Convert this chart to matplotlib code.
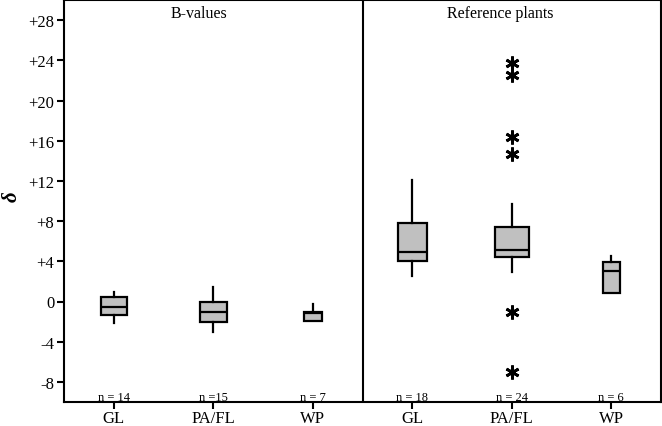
import matplotlib
matplotlib.use("Agg")
import matplotlib.pyplot as plt
import numpy as np

plt.rcParams['font.family'] = ['Liberation Serif', 'DejaVu Serif']

groups = ["GL", "PA/FL", "WP", "GL", "PA/FL", "WP"]
panels = ["B-values", "Reference plants"]
n_labels = ["n = 14", "n =15", "n = 7", "n = 18", "n = 24", "n = 6"]
n_values = [14, 15, 7, 18, 24, 6]
whislo = [-2.1, -3.0, -1.97, 2.5, 2.9, 0.85]
q1 = [-1.3, -2.0, -1.97, 4.05, 4.45, 0.85]
med = [-0.5, -1.0, -1.1, 4.9, 5.1, 3.0]
q3 = [0.4, 0.0, -1.07, 7.8, 7.4, 3.95]
whishi = [0.9, 1.4, -0.25, 12.1, 9.75, 4.5]
fliers = [[], [], [], [], [23.7, 22.5, 16.4, 14.7, -1.0, -7.0], []]
yticks = [-8, -4, 0, 4, 8, 12, 16, 20, 24, 28]
ytick_labels = ["-8", "-4", "0", "+4", "+8", "+12", "+16", "+20", "+24", "+28"]

fig = plt.figure(figsize=(6.62, 4.27), dpi=100)
ax = fig.add_axes([64/662, 1 - 403/427, 597/662, 402/427])

stats = []
for i in range(len(groups)):
    stats.append(dict(whislo=whislo[i], q1=q1[i], med=med[i], q3=q3[i],
                      whishi=whishi[i], fliers=fliers[i]))
positions = np.arange(len(groups))
widths = [0.069 * np.sqrt(n) for n in n_values]

ax.bxp(stats, positions=positions, widths=widths, patch_artist=True,
       showcaps=False,
       boxprops=dict(facecolor="#c0c0c0", edgecolor="black", linewidth=1.6),
       medianprops=dict(color="black", linewidth=1.6),
       whiskerprops=dict(color="black", linewidth=1.6),
       flierprops=dict(marker=(6, 2, 0), markersize=10, markeredgecolor="black",
                       markeredgewidth=2.0, linestyle="none"))

ax.set_xlim(-0.5, 5.5)
ax.set_ylim(-10, 30)
ax.axvline(2.5, color="black", linewidth=1.5)

ax.set_xticks(positions)
ax.set_xticklabels(groups, fontsize=12)
ax.set_yticks(yticks)
ax.set_yticklabels(ytick_labels, fontsize=12)
ax.tick_params(direction="out", length=5, width=1.5, pad=2)
ax.tick_params(axis="x", pad=1)
for s in ax.spines.values():
    s.set_linewidth(1.5)

for i, lab in enumerate(n_labels):
    ax.text(positions[i], -9.85, lab, ha="center", va="baseline", fontsize=9)

ax.text(0.86, 28.75, panels[0], ha="center", va="center", fontsize=11.5)
ax.text(3.88, 28.75, panels[1], ha="center", va="center", fontsize=11.5)

fig.text(12/662, 1 - 197/427, "δ", fontsize=15, fontweight="bold", fontstyle="italic",
         rotation=90, ha="center", va="center")

fig.savefig("out.png", dpi=100)
